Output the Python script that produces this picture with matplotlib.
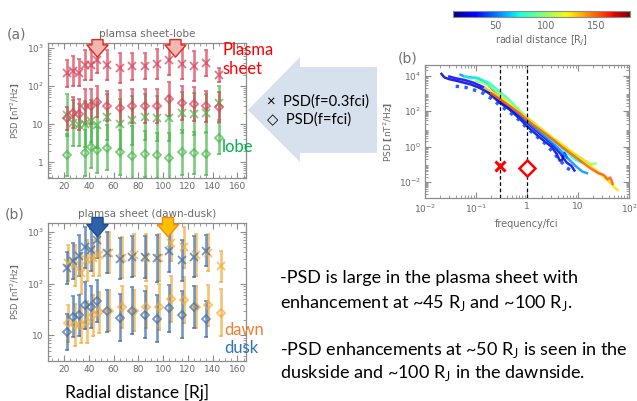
import matplotlib
matplotlib.use('Agg')
import matplotlib.pyplot as plt
import numpy as np
from matplotlib.patches import Polygon
from matplotlib.ticker import MultipleLocator, LogLocator, NullFormatter, FuncFormatter
from matplotlib.colors import Normalize
from matplotlib.cm import ScalarMappable

W, H = 637, 401

# radial distance bins [Rj]
r_bins = [22, 27, 32, 37, 42, 47, 55, 65, 75, 85, 95, 105, 115, 125, 135, 145]

# (a) plasma sheet / lobe, PSD [nT^2/Hz] at f=0.3fci (x) and f=fci (diamond)
ps_03 = [214, 245, 224, 355, 355, 479, 355, 302, 331, 339, 380, 479, 372, 339, 398, 195]
ps_03_err = [0.35, 0.4, 0.35, 0.4, 0.4, 0.35, 0.4, 0.4, 0.35, 0.35, 0.4, 0.4, 0.4, 0.4, 0.35, 0.18]
ps_1 = [14, 20, 18, 29, 29, 39, 30, 27, 30, 30, 30, 45, 36, 33, 29, 28]
ps_1_err = [0.3, 0.4, 0.4, 0.45, 0.45, 0.4, 0.4, 0.45, 0.45, 0.45, 0.45, 0.45, 0.45, 0.45, 0.4, 0.4]
lobe_03 = [17, 10.5, 9.3, 10, 12, 9.3, 15, 10, 12.5, 15, 14, 14, 20, 18.5, 20, 35]
lobe_03_err = [0.55, 0.6, 0.55, 0.6, 0.55, 0.6, 0.6, 0.65, 0.65, 0.6, 0.6, 0.6, 0.55, 0.55, 0.5, 0.45]
lobe_1 = [1.5, np.nan, np.nan, 1.7, 2.5, 2.1, 2.4, 1.8, 1.4, 1.6, 1.5, 1.3, 1.8, 1.7, 1.6, 4.2]
lobe_1_err = [0.55, 0.6, 0.6, 0.6, 0.55, 0.6, 0.6, 0.6, 0.8, 0.6, 0.6, 0.65, 0.6, 0.55, 0.55, 0.4]

# (b) plasma sheet, dawn / dusk
dusk_03 = [200, 275, 347, 500, 447, 692, 398, 302, 331, 324, 309, 417, 282, 331, 427, np.nan]
dusk_03_err = [0.3, 0.35, 0.4, 0.4, 0.4, 0.35, 0.4, 0.4, 0.4, 0.4, 0.45, 0.4, 0.4, 0.4, 0.3, 0.3]
dawn_03 = [251, 224, 158, 282, 316, 355, 398, 316, 355, 316, 316, 603, 501, 355, 398, 214]
dawn_03_err = [0.35, 0.4, 0.4, 0.4, 0.35, 0.4, 0.4, 0.4, 0.4, 0.45, 0.45, 0.35, 0.4, 0.4, 0.35, 0.3]
dusk_1 = [11.5, 23, 24.5, 38, 35.5, 45.7, 29.5, 21.9, 30.2, 25.1, 20.9, 33.1, 25.1, 35.5, 20.4, np.nan]
dusk_1_err = [0.35, 0.4, 0.4, 0.45, 0.4, 0.4, 0.4, 0.45, 0.45, 0.45, 0.45, 0.45, 0.45, 0.4, 0.35, 0.3]
dawn_1 = [17, 16, 16, 18, 24.5, 28, 30, 35.5, 30, 35.5, 35.5, 50, 48, 35.5, 38, 27.5]
dawn_1_err = [0.35, 0.4, 0.35, 0.4, 0.4, 0.4, 0.4, 0.4, 0.4, 0.4, 0.45, 0.45, 0.45, 0.4, 0.4, 0.45]

# spectra: radial distance [Rj], frequency/fci, log10 PSD
spec_r = [20, 30, 42, 55, 75, 100, 125, 150]
spec_f = [
    [0.021, 0.024, 0.03, 0.04, 0.055, 0.08, 0.12, 0.18, 0.3, 0.45, 0.7, 1.0, 1.5, 2.2, 3.0, 3.8, 4.4, 4.9, 5.4, 6.0],
    [0.03, 0.04, 0.06, 0.09, 0.14, 0.2, 0.3, 0.45, 0.7, 1.0, 1.5, 2.2, 3.2, 4.5, 6.0, 7.5, 8.5],
    [0.04, 0.06, 0.09, 0.14, 0.2, 0.3, 0.45, 0.7, 1.0, 1.5, 2.2, 3.2, 4.5, 6.0, 8.0],
    [0.05, 0.06, 0.08, 0.11, 0.15, 0.2, 0.3, 0.45, 0.7, 1.0, 1.5, 2.2, 3.2, 4.5, 6.5, 9.0, 12.0, 15.0],
    [0.06, 0.08, 0.1, 0.13, 0.18, 0.25, 0.35, 0.5, 0.7, 1.0, 1.5, 2.2, 3.2, 4.5, 6.5, 9.0, 12.0],
    [0.1, 0.13, 0.18, 0.25, 0.35, 0.5, 0.7, 1.0, 1.5, 2.2, 3.2, 4.5, 6.5, 9.0, 13, 18, 22],
    [0.15, 0.2, 0.3, 0.45, 0.7, 1.0, 1.5, 2.2, 3.2, 4.5, 6.5, 9.0, 13, 18, 25, 35, 50, 60],
    [0.2, 0.3, 0.45, 0.7, 1.0, 1.5, 2.2, 3.2, 4.5, 6.5, 9.0, 13, 18, 25, 32, 38, 43, 48],
]
spec_logpsd = [
    [4.1, 3.9, 3.8, 3.72, 3.62, 3.5, 3.3, 3.0, 2.45, 2.1, 1.6, 1.15, 0.7, 0.3, 0.0, -0.4, -0.8, -0.75, -0.35, -0.6],
    [3.95, 3.85, 3.75, 3.6, 3.35, 3.0, 2.55, 2.2, 1.75, 1.35, 0.9, 0.5, 0.1, -0.4, -0.9, -1.1, -1.35],
    [3.4, 3.35, 3.2, 3.0, 2.7, 2.3, 1.95, 1.5, 1.05, 0.6, 0.2, -0.3, -0.8, -1.2, -1.4],
    [4.05, 3.95, 3.9, 3.85, 3.65, 3.3, 2.7, 2.3, 1.85, 1.45, 1.0, 0.6, 0.2, -0.2, -0.7, -1.1, -1.4, -1.5],
    [3.95, 3.85, 3.9, 3.75, 3.6, 3.25, 2.9, 2.5, 2.05, 1.6, 1.15, 0.75, 0.35, 0.0, -0.4, -0.75, -0.9],
    [3.7, 3.6, 3.45, 3.1, 2.8, 2.45, 2.05, 1.65, 1.25, 0.85, 0.45, 0.1, -0.2, -0.45, -0.75, -1.0, -0.95],
    [3.3, 3.1, 2.8, 2.35, 1.95, 1.6, 1.2, 0.85, 0.5, 0.2, -0.15, -0.45, -0.8, -1.1, -1.45, -1.8, -2.25, -2.45],
    [3.0, 2.65, 2.3, 1.9, 1.5, 1.1, 0.75, 0.4, 0.05, -0.3, -0.6, -0.95, -1.25, -1.5, -1.6, -1.85, -1.75, -2.1],
]
spec_style = ['-', '-', ':', '-', '-', '-', '-', '-']

grey = '#6a6a6a'
txt_font = ['Lato', 'DejaVu Sans']

fig = plt.figure(figsize=(W / 100, H / 100), dpi=100)


def frac(x0, y0, x1, y1):
    # pixel box (top-left origin) -> figure fraction rect
    return [x0 / W, 1 - y1 / H, (x1 - x0) / W, (y1 - y0) / H]


def px(x, y):
    return (x / W, 1 - y / H)


def log_label(v, pos):
    if np.isclose(v, 1):
        return '1'
    if np.isclose(v, 10):
        return '10'
    return r'$10^{%d}$' % round(np.log10(v))


def style_axes(ax):
    for s in ax.spines.values():
        s.set_color('#8c8c8c')
        s.set_linewidth(0.9)
    ax.tick_params(which='both', direction='in', top=True, right=True,
                   colors='#8c8c8c', labelcolor=grey, labelsize=6.5, pad=3)
    ax.tick_params(which='major', length=4)
    ax.tick_params(which='minor', length=2)


def series(ax, x, v, e, color, marker, ms):
    v = np.array(v, float)
    e = np.array(e, float)
    lo = v - v / 10 ** e
    hi = v * 10 ** e - v
    ax.errorbar(x, v, yerr=[lo, hi], fmt=marker, ms=ms, mfc='none', mec=color,
                mew=1.3, ecolor=color, elinewidth=1.9, capsize=1.5, alpha=0.72)


def radial_axes(ax, ylim, title):
    ax.set_yscale('log')
    ax.set_xlim(7, 167)
    ax.set_ylim(*ylim)
    ax.xaxis.set_major_locator(MultipleLocator(20))
    ax.xaxis.set_minor_locator(MultipleLocator(5))
    ax.yaxis.set_major_locator(LogLocator(base=10))
    ax.yaxis.set_minor_locator(LogLocator(base=10, subs=np.arange(2, 10)))
    ax.yaxis.set_major_formatter(FuncFormatter(log_label))
    ax.yaxis.set_minor_formatter(NullFormatter())
    ax.set_ylabel(r'PSD $\mathbf{[}$nT$^2$/Hz$\mathbf{]}$', fontsize=6, color=grey, labelpad=4)
    ax.set_title(title, fontsize=7.5, color=grey, pad=4)
    style_axes(ax)


def down_arrow(ax, x, y0, y1, fc, ec):
    ax.annotate('', xy=(x, y1), xytext=(x, y0), xycoords=('data', 'axes fraction'),
                annotation_clip=False,
                arrowprops=dict(arrowstyle='simple,head_length=0.55,head_width=0.95,tail_width=0.5',
                                fc=fc, ec=ec, lw=1, mutation_scale=16, shrinkA=0, shrinkB=0))


# (a) plasma sheet - lobe
ax1 = fig.add_axes(frac(48, 43, 246, 178))
radial_axes(ax1, (0.38, 1350), 'plamsa sheet-lobe')
red, green = '#d9435a', '#4cb84c'
series(ax1, r_bins, lobe_1, lobe_1_err, green, 'D', 4.5)
series(ax1, r_bins, lobe_03, lobe_03_err, green, 'x', 5.5)
series(ax1, r_bins, ps_1, ps_1_err, red, 'D', 4.5)
series(ax1, r_bins, ps_03, ps_03_err, red, 'x', 5.5)
down_arrow(ax1, 47, 1.025, 0.895, '#f0b8b4', '#e8261c')
down_arrow(ax1, 110, 1.025, 0.895, '#f0b8b4', '#e8261c')

# (b) plasma sheet dawn - dusk
ax2 = fig.add_axes(frac(48, 223, 246, 361))
radial_axes(ax2, (3.2, 1480), 'plamsa sheet (dawn-dusk)')
dawn_c, dusk_c = '#f2ac3a', '#3f6fb0'
dawn_x = [r + 1.5 for r in r_bins]
series(ax2, dawn_x, dawn_1, dawn_1_err, dawn_c, 'D', 4.5)
series(ax2, dawn_x, dawn_03, dawn_03_err, dawn_c, 'x', 5.5)
series(ax2, r_bins, dusk_1, dusk_1_err, dusk_c, 'D', 4.5)
series(ax2, r_bins, dusk_03, dusk_03_err, dusk_c, 'x', 5.5)
down_arrow(ax2, 47, 1.04, 0.9, '#2e62a6', '#1f4f8f')
down_arrow(ax2, 104, 1.04, 0.9, '#ffc000', '#f08a1c')

# spectra coloured by radial distance
cmap = plt.get_cmap('jet')
norm = Normalize(8, 183)
ax3 = fig.add_axes(frac(425, 65, 629, 198))
for r, f, lp, ls in zip(spec_r, spec_f, spec_logpsd, spec_style):
    ax3.plot(f, 10 ** np.array(lp), ls=ls, color=cmap(norm(r)), lw=1.8 if ls == '-' else 2.4,
             alpha=0.85)
ax3.set_xscale('log')
ax3.set_yscale('log')
ax3.set_xlim(1e-2, 1e2)
ax3.set_ylim(10 ** -2.9, 10 ** 4.6)
ax3.set_xticks([1e-2, 1e-1, 1, 10, 1e2])
ax3.set_xticklabels([r'$10^{-2}$', r'$10^{-1}$', '1', '10', r'$10^{2}$'])
ax3.set_yticks([1e-2, 1, 1e2, 1e4])
ax3.set_yticklabels([r'$10^{-2}$', r'$10^{0}$', r'$10^{2}$', r'$10^{4}$'])
ax3.xaxis.set_minor_locator(LogLocator(base=10, subs=np.arange(2, 10)))
ax3.xaxis.set_minor_formatter(NullFormatter())
ax3.yaxis.set_minor_locator(LogLocator(base=10, subs=np.arange(2, 10), numticks=20))
ax3.yaxis.set_minor_formatter(NullFormatter())
style_axes(ax3)
ax3.set_xlabel('frequency/fci', fontsize=7, color=grey, labelpad=3)
ax3.set_ylabel(r'PSD $\mathbf{[}$nT$^2$/Hz$\mathbf{]}$', fontsize=6.5, color=grey, labelpad=3)
ax3.axvline(0.3, color='k', ls='--', lw=0.9, dashes=(3, 2))
ax3.axvline(1.0, color='k', ls='--', lw=0.9, dashes=(3, 2))
ax3.plot(0.3, 0.08, 'x', color='red', ms=6.5, mew=2.2)
ax3.plot(1.0, 0.063, 'D', mfc='white', mec='red', ms=8.5, mew=1.8)

cax = fig.add_axes(frac(453, 11, 630, 17))
cb = fig.colorbar(ScalarMappable(norm=norm, cmap=cmap), cax=cax, orientation='horizontal',
                  ticks=[50, 100, 150])
cb.outline.set_edgecolor('#8c8c8c')
cb.ax.tick_params(labelsize=7, colors='#8c8c8c', labelcolor=grey, length=0, pad=3)
cb.set_label(r'radial distance [R$_J$]', fontsize=7, color=grey, labelpad=2)

# panel labels
fig.text(*px(7, 34), '(a)', fontsize=10, color='#707070', va='center')
fig.text(*px(5, 215), '(b)', fontsize=10, color='#707070', va='center')
fig.text(*px(398, 59), '(b)', fontsize=10, color='#707070', va='center')

# big left-pointing arrow
arrow_pts = [px(248, 110), px(300, 57), px(300, 67), px(377, 67),
             px(377, 153), px(300, 153), px(300, 162)]
fig.patches.append(Polygon(arrow_pts, closed=True, transform=fig.transFigure,
                           fc='#d7e1ee', ec='none', zorder=0))
fig.text(*px(267, 102), '×  PSD(f=0.3fci)', fontsize=10.6, family=txt_font, va='center')
fig.text(*px(267, 120), '◇  PSD(f=fci)', fontsize=10.6, family=txt_font, va='center')

# region annotations
fig.text(*px(222, 50), 'Plasma', fontsize=12, family=txt_font, color='#ff0000', va='center')
fig.text(*px(222, 69), 'sheet', fontsize=12, family=txt_font, color='#ff0000', va='center')
fig.text(*px(222, 147), 'lobe', fontsize=12, family=txt_font, color='#00b050', va='center')
fig.text(*px(224, 330), 'dawn', fontsize=12, family=txt_font, color='#ed7d31', va='center')
fig.text(*px(224, 348), 'dusk', fontsize=12, family=txt_font, color='#2e75b6', va='center')
fig.text(*px(137, 392), 'Radial distance [Rj]', fontsize=12.5, family=txt_font, ha='center', va='center')

RJ = r'R$_\mathregular{J}$'
notes = [(278, '-PSD is large in the plasma sheet with'),
         (303, 'enhancement at ~45 ' + RJ + ' and ~100 ' + RJ + '.'),
         (350, '-PSD enhancements at ~50 ' + RJ + ' is seen in the'),
         (373, 'duskside and ~100 ' + RJ + ' in the dawnside.')]
for y, s in notes:
    fig.text(*px(280, y), s, fontsize=13, family=txt_font, va='center')

fig.savefig('out.png', dpi=100)
